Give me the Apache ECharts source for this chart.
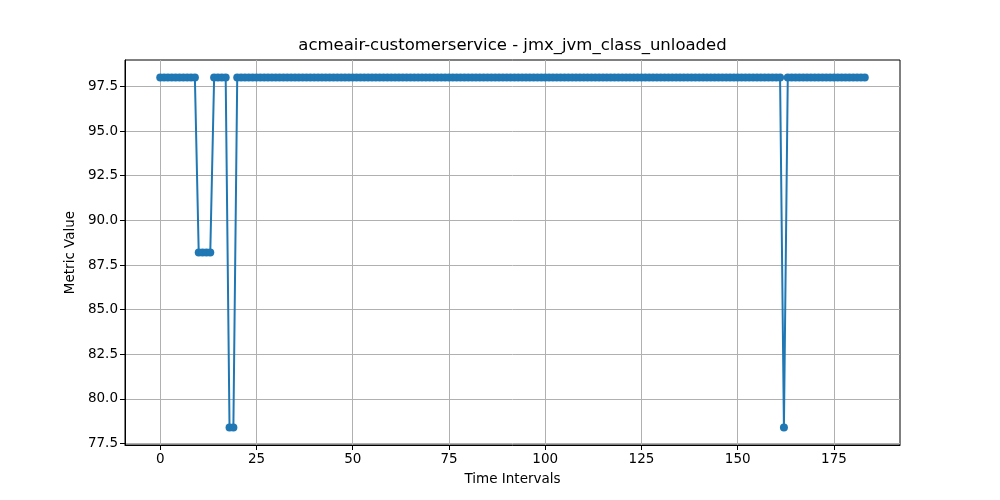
<!DOCTYPE html>
<html>
<head>
<meta charset="utf-8">
<script src="https://cdn.jsdelivr.net/npm/echarts@6/dist/echarts.min.js"></script>
<style>html,body{margin:0;padding:0;background:#fff}#c{width:1000px;height:500px}</style>
</head>
<body>
<div id="c"></div>
<script>
const titleText = "acmeair-customerservice - jmx_jvm_class_unloaded";
const xName = "Time Intervals";
const yName = "Metric Value";
const xTicks = [0, 25, 50, 75, 100, 125, 150, 175];
const yTicks = [77.5, 80.0, 82.5, 85.0, 87.5, 90.0, 92.5, 95.0, 97.5];
const values = [
  98, 98, 98, 98, 98, 98, 98, 98, 98, 98, 88.2, 88.2, 88.2, 88.2, 98, 98, 98, 98, 78.4, 78.4,
  98, 98, 98, 98, 98, 98, 98, 98, 98, 98, 98, 98, 98, 98, 98, 98, 98, 98, 98, 98,
  98, 98, 98, 98, 98, 98, 98, 98, 98, 98, 98, 98, 98, 98, 98, 98, 98, 98, 98, 98,
  98, 98, 98, 98, 98, 98, 98, 98, 98, 98, 98, 98, 98, 98, 98, 98, 98, 98, 98, 98,
  98, 98, 98, 98, 98, 98, 98, 98, 98, 98, 98, 98, 98, 98, 98, 98, 98, 98, 98, 98,
  98, 98, 98, 98, 98, 98, 98, 98, 98, 98, 98, 98, 98, 98, 98, 98, 98, 98, 98, 98,
  98, 98, 98, 98, 98, 98, 98, 98, 98, 98, 98, 98, 98, 98, 98, 98, 98, 98, 98, 98,
  98, 98, 98, 98, 98, 98, 98, 98, 98, 98, 98, 98, 98, 98, 98, 98, 98, 98, 98, 98,
  98, 98, 78.4, 98, 98, 98, 98, 98, 98, 98, 98, 98, 98, 98, 98, 98, 98, 98, 98, 98,
  98, 98, 98, 98
];

const n = values.length - 1;
const vMin = Math.min(...values), vMax = Math.max(...values);
const xPad = n * 0.05, yPad = (vMax - vMin) * 0.05;
const seriesData = values.map((v, i) => [i, v]);

const font = "DejaVu Sans";
const chart = echarts.init(document.getElementById('c'), null, {renderer: 'canvas'});
chart.setOption({
  animation: false,
  backgroundColor: '#ffffff',
  title: {
    text: titleText, left: 512.5, top: 37, padding: 0, textAlign: 'center',
    textStyle: {fontFamily: font, fontSize: 16.5, fontWeight: 'normal', color: '#000'}
  },
  grid: {left: 125, right: 100, top: 60, bottom: 55, show: true, borderColor: '#000', borderWidth: 1, backgroundColor: 'transparent'},
  xAxis: {
    type: 'value', min: -xPad, max: n + xPad,
    name: xName, nameLocation: 'middle', nameGap: 27,
    nameTextStyle: {fontFamily: font, fontSize: 13.5, color: '#000'},
    axisLine: {show: true, onZero: false, lineStyle: {color: '#000', width: 1}},
    axisTick: {show: true, length: 5, lineStyle: {color: '#000'}, customValues: xTicks},
    axisLabel: {fontFamily: font, fontSize: 13.5, color: '#000', margin: 7, customValues: xTicks, formatter: v => String(v)},
    splitLine: {show: true, lineStyle: {color: '#b0b0b0', width: 1}}
  },
  yAxis: {
    type: 'value', min: vMin - yPad, max: vMax + yPad,
    name: yName, nameLocation: 'middle', nameGap: 47,
    nameTextStyle: {fontFamily: font, fontSize: 13.5, color: '#000'},
    axisLine: {show: true, onZero: false, lineStyle: {color: '#000', width: 1}},
    axisTick: {show: true, length: 5, lineStyle: {color: '#000'}, customValues: yTicks},
    axisLabel: {fontFamily: font, fontSize: 13.5, color: '#000', margin: 7, customValues: yTicks, formatter: v => v.toFixed(1)},
    splitLine: {show: true, lineStyle: {color: '#b0b0b0', width: 1}}
  },
  series: [{
    type: 'line', data: seriesData,
    symbol: 'circle', symbolSize: 8, showAllSymbol: true,
    itemStyle: {color: '#1f77b4'},
    lineStyle: {color: '#1f77b4', width: 2}
  }]
});
</script>
</body>
</html>
